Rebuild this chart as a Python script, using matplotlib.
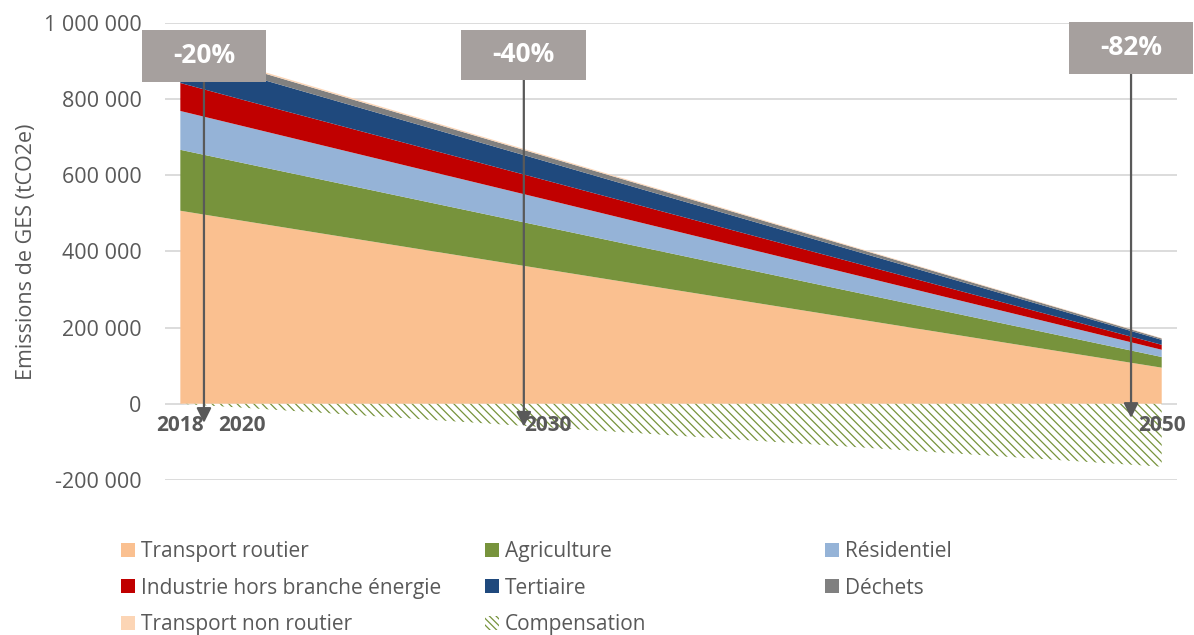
import numpy as np
import matplotlib.pyplot as plt
from matplotlib.patches import Patch, Rectangle
from matplotlib.ticker import FuncFormatter

plt.rcParams['font.family'] = ['Open Sans', 'DejaVu Sans']
plt.rcParams['hatch.linewidth'] = 0.9

# data (tCO2e)
years = [2018, 2020, 2030, 2050]
transport_routier = [507000, 481000, 352000, 95000]
agriculture = [160000, 152000, 111000, 28000]
residentiel = [102000, 97000, 72000, 19000]
industrie = [73500, 69000, 50000, 13000]
tertiaire = [71500, 68000, 49500, 13000]
dechets = [19000, 18000, 13000, 3500]
transport_non_routier = [4000, 3800, 2800, 1000]
compensation = [0, -10000, -62000, -165000]

labels = ['Transport routier', 'Agriculture', 'Résidentiel',
          'Industrie hors branche énergie', 'Tertiaire', 'Déchets',
          'Transport non routier']
colors = ['#FAC090', '#77933C', '#95B3D7', '#C00000', '#1F497D', '#808080', '#FCD5B5']
green = '#77933C'
grey_txt = '#595959'

# target boxes: label, x centre (year), box top, box bottom, arrow tip
targets = ['-20%', '-40%', '-82%']
target_x = [2018.77, 2029.20, 2049.0]
box_top = [981600, 981600, 1002600]
box_bot = [845100, 850400, 866100]
arrow_tip = [-50000, -60000, -37000]

fig = plt.figure(figsize=(11.94, 6.35), dpi=100)
ax = fig.add_axes([0.1382, 0.2441, 0.8476, 0.7197])

yticks = np.arange(-200000, 1000001, 200000)
for yv in yticks:
    ax.axhline(yv, color='#D9D9D9', lw=1.3, zorder=0)

series = [transport_routier, agriculture, residentiel, industrie,
          tertiaire, dechets, transport_non_routier]
ax.stackplot(years, *series, colors=colors, linewidth=0, zorder=2)
ax.fill_between(years, compensation, 0, facecolor='white', edgecolor=green,
                hatch='\\\\\\\\', linewidth=0, zorder=2)

ax.set_axisbelow(False)
ax.set_xlim(2017.5, 2050.5)
ax.set_ylim(-200000, 1000000)
ax.set_yticks(yticks)
ax.yaxis.set_major_formatter(FuncFormatter(lambda v, p: f'{v:,.0f}'.replace(',', ' ')))
ax.set_xticks(years)
ax.set_xticklabels([str(y) for y in years])
for s in ax.spines.values():
    s.set_visible(False)
ax.spines['bottom'].set_position(('data', 0))
ax.tick_params(axis='x', length=0, pad=8, labelsize=15, labelcolor=grey_txt)
ax.tick_params(axis='y', length=0, pad=17, labelsize=15.5, labelcolor=grey_txt)
for lab in ax.get_xticklabels():
    lab.set_fontweight('bold')
ax.set_ylabel('Emissions de GES (tCO2e)', fontsize=15.5, color=grey_txt)
ax.yaxis.set_label_coords(-0.126, 0.5)

box_w = 4.07
for lab, x, top, bot, tip in zip(targets, target_x, box_top, box_bot, arrow_tip):
    ax.annotate('', xy=(x, tip), xytext=(x, bot), annotation_clip=False,
                arrowprops=dict(arrowstyle='-|>', color=grey_txt, lw=1.6,
                                mutation_scale=22, shrinkA=0, shrinkB=0), zorder=5)
    ax.add_patch(Rectangle((x - box_w / 2, bot), box_w, top - bot, facecolor='#A6A09E',
                           edgecolor='none', clip_on=False, zorder=6))
    ax.text(x, (top + bot) / 2, lab, ha='center', va='center', color='white',
            fontsize=19, fontweight='bold', zorder=7, clip_on=False)

handles = [Patch(facecolor=c, edgecolor='none') for c in colors]
handles.append(Patch(facecolor='white', edgecolor=green, hatch='\\\\\\\\\\', linewidth=0))
names = labels + ['Compensation']
columns = [[0, 3, 6], [1, 4, 7], [2, 5]]
col_x = [121, 485, 825]
for idx, cx in zip(columns, col_x):
    leg = fig.legend([handles[i] for i in idx], [names[i] for i in idx],
                     loc='upper left', bbox_to_anchor=(cx / 1194, 1 - 541 / 635),
                     frameon=False, fontsize=15, labelcolor=grey_txt,
                     handlelength=0.65, handleheight=0.65, handletextpad=0.3,
                     borderpad=0, borderaxespad=0, labelspacing=0.75)

fig.savefig('out.png', dpi=100)
